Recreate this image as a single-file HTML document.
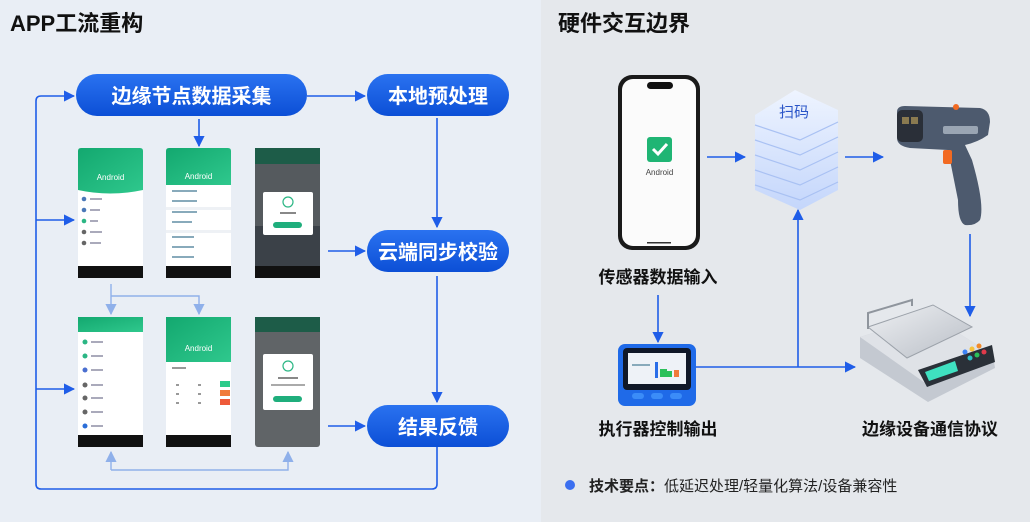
<!DOCTYPE html>
<html><head><meta charset="utf-8"><style>
html,body{margin:0;padding:0;width:1030px;height:522px;overflow:hidden;background:#e8edf3}
svg{display:block}
text{font-family:"Liberation Sans","Noto Sans CJK SC",sans-serif}
</style></head><body>
<svg width="1030" height="522" viewBox="0 0 1030 522" xmlns="http://www.w3.org/2000/svg">
<defs>
<marker id="a" viewBox="0 0 10 10" refX="9" refY="5" markerWidth="7" markerHeight="7" orient="auto"><path d="M0,0L10,5L0,10z" fill="#1f5de8"/></marker>
<marker id="b" viewBox="0 0 10 10" refX="9" refY="5" markerWidth="8" markerHeight="8" orient="auto"><path d="M0,0L10,5L0,10z" fill="#8fb0ea"/></marker>
<linearGradient id="pill" x1="0" y1="0" x2="0" y2="1"><stop offset="0" stop-color="#2a72f0"/><stop offset="1" stop-color="#0c4fd6"/></linearGradient>
<linearGradient id="grn" x1="0" y1="0" x2="1" y2="1"><stop offset="0" stop-color="#13a86f"/><stop offset="1" stop-color="#2fc88d"/></linearGradient>
<linearGradient id="stk" x1="0" y1="0" x2="0" y2="1"><stop offset="0" stop-color="#eef4ff"/><stop offset="1" stop-color="#c4d6fb"/></linearGradient>
<linearGradient id="plat" x1="0" y1="0" x2="1" y2="1"><stop offset="0" stop-color="#eef0f3"/><stop offset="1" stop-color="#b9bec6"/></linearGradient>
</defs>
<rect x="0" y="0" width="541" height="522" fill="#e9eef5"/>
<rect x="541" y="0" width="489" height="522" fill="#e5e8ec"/>
<text x="10" y="31" font-size="22" font-weight="bold" fill="#111">APP工流重构</text>
<text x="558" y="31" font-size="22" font-weight="bold" fill="#111">硬件交互边界</text>

<rect x="76" y="74" width="231" height="42" rx="21" fill="url(#pill)"/>
<text x="191.5" y="103" font-size="20" font-weight="bold" fill="#fff" text-anchor="middle">边缘节点数据采集</text>
<rect x="367" y="74" width="142" height="42" rx="21" fill="url(#pill)"/>
<text x="438" y="103" font-size="20" font-weight="bold" fill="#fff" text-anchor="middle">本地预处理</text>
<rect x="367" y="230" width="142" height="42" rx="21" fill="url(#pill)"/>
<text x="438" y="259" font-size="20" font-weight="bold" fill="#fff" text-anchor="middle">云端同步校验</text>
<rect x="367" y="405" width="142" height="42" rx="21" fill="url(#pill)"/>
<text x="438" y="434" font-size="20" font-weight="bold" fill="#fff" text-anchor="middle">结果反馈</text>

<g stroke="#1f5de8" stroke-width="1.6" fill="none">
<path d="M437,447 V484 Q437,489 432,489 H41 Q36,489 36,484 V101 Q36,96 41,96 H74" marker-end="url(#a)"/>
<path d="M36,220 H74" marker-end="url(#a)"/>
<path d="M36,389 H74" marker-end="url(#a)"/>
<path d="M307,96 H365" marker-end="url(#a)"/>
<path d="M199,119 V146" marker-end="url(#a)"/>
<path d="M437,118 V227" marker-end="url(#a)"/>
<path d="M437,276 V402" marker-end="url(#a)"/>
<path d="M328,251 H365" marker-end="url(#a)"/>
<path d="M328,426 H365" marker-end="url(#a)"/>
</g>
<g stroke="#8fb0ea" stroke-width="1.4" fill="none">
<path d="M111,284 V314" marker-end="url(#b)"/>
<path d="M111,296 H199 V314" marker-end="url(#b)"/>
<path d="M111,470 V452" marker-end="url(#b)"/>
<path d="M111,470 H288 V452" marker-end="url(#b)"/>
</g>

<g>
<rect x="78" y="148" width="65" height="130" rx="3" fill="#fff"/>
<path d="M78,151 Q78,148 81,148 H140 Q143,148 143,151 V190 Q110,197 78,190z" fill="url(#grn)"/>
<text x="110.5" y="180" font-size="8" fill="#fff" text-anchor="middle">Android</text>
<g fill="#4a78b8"><circle cx="84" cy="199" r="2.3"/><circle cx="84" cy="210" r="2.3"/><circle cx="84" cy="221" r="2.3" fill="#2bb684"/><circle cx="84" cy="232" r="2.3" fill="#666"/><circle cx="84" cy="243" r="2.3" fill="#666"/></g>
<g fill="#aab"><rect x="90" y="198" width="12" height="2"/><rect x="90" y="209" width="10" height="2"/><rect x="90" y="220" width="8" height="2"/><rect x="90" y="231" width="12" height="2"/><rect x="90" y="242" width="11" height="2"/></g>
<rect x="78" y="266" width="65" height="12" fill="#111"/>

<rect x="166" y="148" width="65" height="130" rx="3" fill="#fff"/>
<path d="M166,151 Q166,148 169,148 H228 Q231,148 231,151 V185 H166z" fill="url(#grn)"/>
<text x="198.5" y="179" font-size="8" fill="#fff" text-anchor="middle">Android</text>
<rect x="166" y="207" width="65" height="3" fill="#eef1f5"/><rect x="166" y="230" width="65" height="3" fill="#eef1f5"/>
<g fill="#8ab"><rect x="172" y="190" width="25" height="2"/><rect x="172" y="200" width="25" height="2"/><rect x="172" y="211" width="25" height="2"/><rect x="172" y="221" width="20" height="2"/><rect x="172" y="236" width="22" height="2"/><rect x="172" y="246" width="22" height="2"/><rect x="172" y="256" width="22" height="2"/></g>
<rect x="166" y="266" width="65" height="12" fill="#111"/>

<rect x="255" y="148" width="65" height="130" rx="3" fill="#555a5e"/>
<rect x="255" y="148" width="65" height="16" fill="#1d5c48"/>
<rect x="255" y="226" width="65" height="40" fill="#3b4148"/>
<rect x="263" y="192" width="50" height="43" rx="2" fill="#fff"/>
<circle cx="288" cy="202" r="5" fill="none" stroke="#2bb684" stroke-width="1.2"/>
<rect x="280" y="212" width="16" height="2" fill="#888"/>
<rect x="273" y="222" width="29" height="6" rx="3" fill="#1fae7c"/>
<rect x="255" y="266" width="65" height="12" fill="#111"/>
</g>

<g>
<rect x="78" y="317" width="65" height="130" rx="3" fill="#fff"/>
<rect x="78" y="317" width="65" height="15" fill="url(#grn)"/>
<g fill="#2bb684"><circle cx="85" cy="342" r="2.5"/><circle cx="85" cy="356" r="2.5"/><circle cx="85" cy="370" r="2.5" fill="#4a6fd0"/><circle cx="85" cy="385" r="2.5" fill="#666"/><circle cx="85" cy="398" r="2.5" fill="#666"/><circle cx="85" cy="412" r="2.5" fill="#666"/><circle cx="85" cy="426" r="2.5" fill="#2b6ed8"/></g>
<g fill="#aab"><rect x="91" y="341" width="12" height="2"/><rect x="91" y="355" width="12" height="2"/><rect x="91" y="369" width="12" height="2"/><rect x="91" y="384" width="12" height="2"/><rect x="91" y="397" width="12" height="2"/><rect x="91" y="411" width="12" height="2"/><rect x="91" y="425" width="12" height="2"/></g>
<rect x="78" y="435" width="65" height="12" fill="#111"/>

<rect x="166" y="317" width="65" height="130" rx="3" fill="#fff"/>
<rect x="166" y="317" width="65" height="45" fill="url(#grn)"/>
<text x="198.5" y="351" font-size="8" fill="#fff" text-anchor="middle">Android</text>
<rect x="220" y="381" width="10" height="6" fill="#2bcb8a"/><rect x="220" y="390" width="10" height="6" fill="#f07a3a"/><rect x="220" y="399" width="10" height="6" fill="#ee5a3a"/>
<g fill="#999"><rect x="172" y="367" width="14" height="2"/><rect x="176" y="384" width="3" height="2"/><rect x="198" y="384" width="3" height="2"/><rect x="176" y="393" width="3" height="2"/><rect x="198" y="393" width="3" height="2"/><rect x="176" y="402" width="3" height="2"/><rect x="198" y="402" width="3" height="2"/></g>
<rect x="166" y="435" width="65" height="12" fill="#111"/>

<rect x="255" y="317" width="65" height="130" rx="3" fill="#606467"/>
<rect x="255" y="317" width="65" height="15" fill="#1d5c48"/>
<rect x="263" y="354" width="50" height="56" rx="2" fill="#fff"/>
<circle cx="288" cy="366" r="5" fill="none" stroke="#2bb684" stroke-width="1.2"/>
<rect x="278" y="377" width="20" height="2" fill="#888"/><rect x="271" y="384" width="34" height="2" fill="#aaa"/>
<rect x="273" y="396" width="29" height="6" rx="3" fill="#1fae7c"/>
</g>

<g stroke="#1f5de8" stroke-width="1.6" fill="none">
<path d="M707,157 H745" marker-end="url(#a)"/>
<path d="M845,157 H883" marker-end="url(#a)"/>
<path d="M970,234 V316" marker-end="url(#a)"/>
<path d="M658,295 V342" marker-end="url(#a)"/>
<path d="M696,367 H855" marker-end="url(#a)"/>
<path d="M798,367 V210" marker-end="url(#a)"/>
</g>

<rect x="618" y="75" width="82" height="175" rx="14" fill="#1a1a1a"/>
<rect x="622" y="79" width="74" height="167" rx="11" fill="#fbfbfb"/>
<rect x="647" y="82" width="26" height="7" rx="3.5" fill="#111"/>
<rect x="647" y="137" width="25" height="25" rx="3" fill="#1fb574"/>
<path d="M653,149 L658,154 L667,144" stroke="#fff" stroke-width="3" fill="none"/>
<text x="659.5" y="175" font-size="8" fill="#444" text-anchor="middle">Android</text>
<rect x="647" y="242" width="24" height="1.5" fill="#333"/>
<text x="658" y="283" font-size="17" font-weight="bold" fill="#111" text-anchor="middle">传感器数据输入</text>

<g>
<path d="M755,115 L795,90 L838,110 L838,190 L800,210 L755,190z" fill="url(#stk)"/>
<g stroke="#a9c1f3" stroke-width="1.2" fill="none">
<path d="M755,125 L800,140 L838,122"/><path d="M755,140 L800,155 L838,137"/><path d="M755,155 L800,170 L838,152"/><path d="M755,170 L800,185 L838,167"/><path d="M755,185 L800,200 L838,182"/>
</g>
<text x="794" y="117" font-size="15" fill="#2a55c8" text-anchor="middle">扫码</text>
</g>

<g>
<path d="M897,112 Q897,106 905,106 L980,108 Q990,110 990,122 L988,135 Q978,142 965,145 L972,160 Q985,205 980,220 Q975,226 965,225 Q958,222 958,200 L948,150 L910,148 Q897,146 897,138z" fill="#4d5a6e"/>
<rect x="897" y="110" width="26" height="32" rx="5" fill="#2a2f38"/>
<rect x="902" y="117" width="7" height="7" fill="#8a7a50"/><rect x="911" y="117" width="7" height="7" fill="#8a7a50"/>
<rect x="943" y="126" width="35" height="8" rx="2" fill="#9aa5b3"/>
<rect x="943" y="150" width="9" height="14" rx="2" fill="#f26a22"/>
<circle cx="956" cy="107" r="3" fill="#f26a22"/>
</g>

<!-- scale -->
<g>
<path d="M860,337 L930,315 L993,355 L995,368 L928,402 L860,358z" fill="#c4c9d1"/>
<path d="M860,337 L930,315 L993,355 L928,385z" fill="#dfe2e7"/>
<path d="M868,327 L933,305 L972,327 L907,358z" fill="url(#plat)" stroke="#9ca2aa"/>
<path d="M868,329 L868,313 L912,300 L912,306" stroke="#8f959d" stroke-width="2" fill="none"/>
<path d="M918,370 L992,345 L995,362 L927,387z" fill="#2a3038"/>
<path d="M925,372 L955,361 L958,371 L929,381z" fill="#3fe0c0"/>
<g><circle cx="965" cy="352" r="2.5" fill="#3b82f6"/><circle cx="972" cy="349" r="2.5" fill="#f6c23b"/><circle cx="979" cy="346" r="2.5" fill="#f28a2a"/><circle cx="970" cy="358" r="2.5" fill="#2bc0c8"/><circle cx="977" cy="355" r="2.5" fill="#2bc05a"/><circle cx="984" cy="352" r="2.5" fill="#e03a4a"/></g>
</g>
<text x="930" y="435" font-size="17" font-weight="bold" fill="#111" text-anchor="middle">边缘设备通信协议</text>

<rect x="618" y="344" width="78" height="62" rx="7" fill="#1f6ae8"/>
<rect x="623" y="348" width="68" height="42" rx="4" fill="#101828"/>
<rect x="628" y="353" width="58" height="31" fill="#eef2f7"/>
<rect x="655" y="362" width="3" height="16" fill="#2a6ee8"/>
<rect x="660" y="369" width="7" height="8" fill="#2bc05a"/><rect x="667" y="371" width="5" height="6" fill="#2bc05a"/><rect x="674" y="370" width="5" height="7" fill="#f07a3a"/>
<rect x="632" y="364" width="18" height="2" fill="#8ab"/>
<rect x="632" y="393" width="12" height="6" rx="3" fill="#3b8cf8"/><rect x="651" y="393" width="12" height="6" rx="3" fill="#3b8cf8"/><rect x="670" y="393" width="12" height="6" rx="3" fill="#3b8cf8"/>
<text x="658" y="435" font-size="17" font-weight="bold" fill="#111" text-anchor="middle">执行器控制输出</text>

<circle cx="570" cy="485" r="5" fill="#3b6ff0"/>
<text x="589" y="491" font-size="15" fill="#222"><tspan font-weight="bold">技术要点：</tspan>低延迟处理/轻量化算法/设备兼容性</text>
</svg>
</body></html>
